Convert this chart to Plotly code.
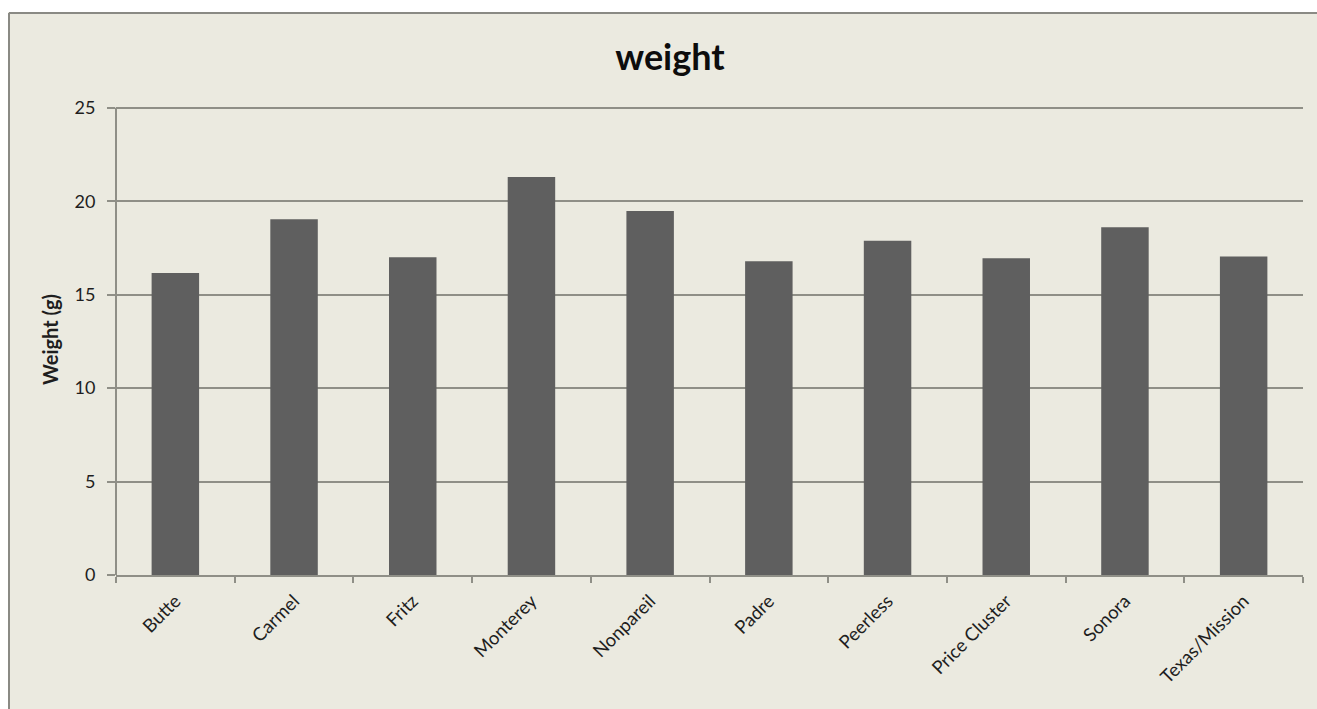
import plotly.graph_objects as go

categories = ["Butte", "Carmel", "Fritz", "Monterey", "Nonpareil", "Padre",
              "Peerless", "Price Cluster", "Sonora", "Texas/Mission"]
weights = [16.16, 19.04, 17.0, 21.29, 19.48, 16.79, 17.89, 16.95, 18.61, 17.04]
y_ticks = [0, 5, 10, 15, 20, 25]

W, H = 1317, 709
ml, mr, mt, mb = 116, 14, 104, 134
pw, ph = W - ml - mr, H - mt - mb

BG = "#ebeae0"
GRID = "#8f8f87"
FRAME = "#8a8a84"
FONT = "Lato"
TXT = "#1e1e1e"

fig = go.Figure(go.Bar(x=categories, y=weights, marker_color="#5f5f5f",
                       marker_line_width=0))

def px_x(p):
    return (p - ml) / pw

def px_y(p):
    return (H - mb - p) / ph

# white strips outside the chart frame (top and left), then frame edges
fig.add_shape(type="rect", xref="paper", yref="paper",
              x0=px_x(-20), x1=px_x(1400), y0=px_y(12), y1=px_y(-20),
              fillcolor="white", line=dict(width=0), layer="below")
fig.add_shape(type="rect", xref="paper", yref="paper",
              x0=px_x(-20), x1=px_x(8), y0=px_y(800), y1=px_y(-20),
              fillcolor="white", line=dict(width=0), layer="below")
fig.add_shape(type="line", xref="paper", yref="paper",
              x0=px_x(9), x1=px_x(1400), y0=px_y(13), y1=px_y(13),
              line=dict(color=FRAME, width=2), layer="below")
fig.add_shape(type="line", xref="paper", yref="paper",
              x0=px_x(9), x1=px_x(9), y0=px_y(800), y1=px_y(13),
              line=dict(color=FRAME, width=2), layer="below")

fig.update_layout(
    width=W, height=H,
    margin=dict(l=ml, r=mr, t=mt, b=mb, pad=0),
    paper_bgcolor=BG,
    plot_bgcolor="rgba(0,0,0,0)",
    bargap=0.6,
    showlegend=False,
    font=dict(family=FONT, color=TXT, size=18),
    title=dict(text="<b>weight</b>", x=670 / W, xanchor="center",
               y=1 - 57 / H, yanchor="middle",
               font=dict(family=FONT, size=36, color="#0d0d0d")),
)
fig.update_xaxes(
    tickangle=-45, tickson="boundaries", ticks="outside", ticklen=6,
    tickcolor=GRID, tickwidth=2, showline=True, linecolor=GRID, linewidth=2,
    showgrid=False, ticklabelstandoff=6,
    tickfont=dict(family=FONT, size=18.5, color=TXT),
)
fig.update_yaxes(
    range=[0, 25.2], tickvals=y_ticks, ticks="outside", ticklen=8,
    tickcolor=GRID, tickwidth=2, showline=False,
    showgrid=True, gridcolor=GRID, gridwidth=2, zeroline=False,
    ticklabelstandoff=8,
    tickfont=dict(family=FONT, size=18, color=TXT),
    title=dict(text="<b>Weight (g)</b>", standoff=10,
               font=dict(family=FONT, size=20, color=TXT)),
)
# y axis line from 0 to 25 only
fig.add_shape(type="line", xref="paper", yref="y", x0=0, x1=0, y0=0, y1=y_ticks[-1],
              line=dict(color=GRID, width=2))

fig.write_html(
    "out.html",
    config={"displayModeBar": False},
    post_script="document.documentElement.style.overflow='hidden';"
                "document.body.style.margin='0';document.body.style.overflow='hidden';",
)
